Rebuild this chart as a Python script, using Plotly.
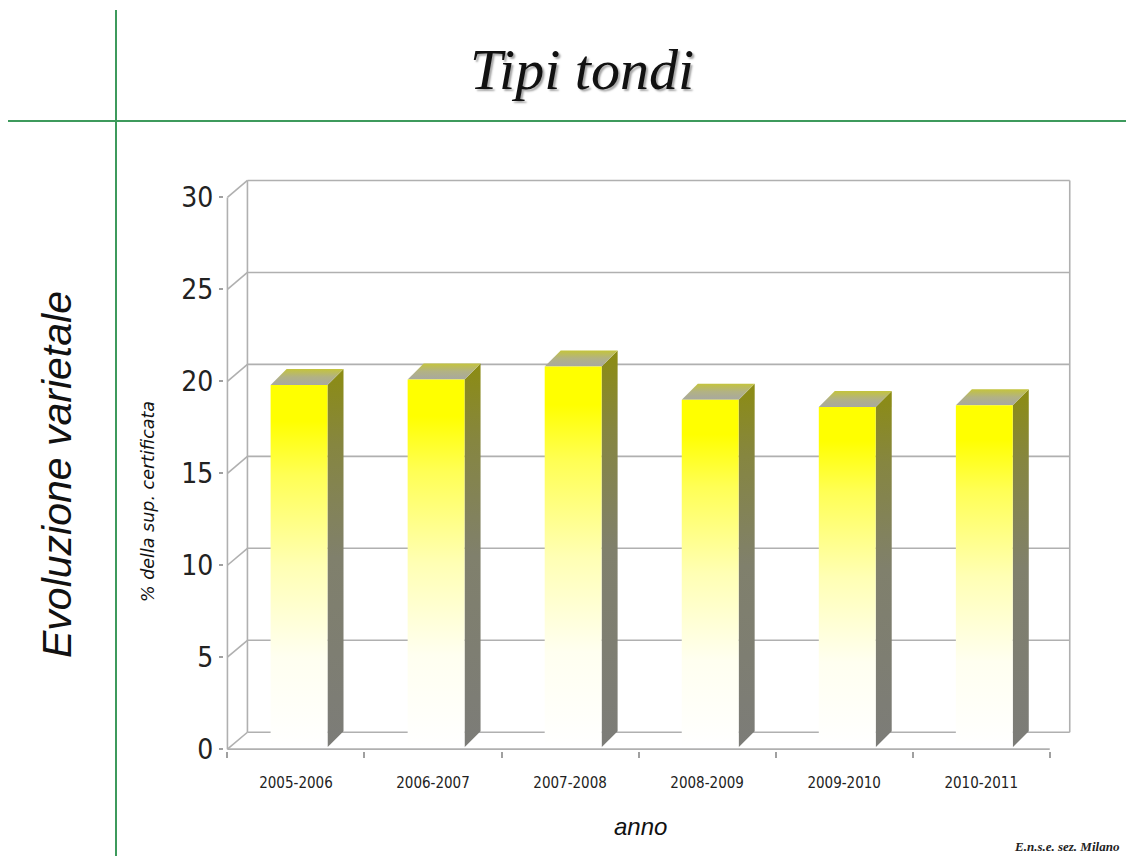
import plotly.graph_objects as go

# ---- data ----
categories = ["2005-2006", "2006-2007", "2007-2008", "2008-2009", "2009-2010", "2010-2011"]
values = [19.7, 20.0, 20.7, 18.9, 18.5, 18.6]
y_ticks = [0, 5, 10, 15, 20, 25, 30]

title_text = "Tipi tondi"
side_text = "Evoluzione varietale"
y_title = "% della sup. certificata"
x_title = "anno"
credit = "E.n.s.e. sez. Milano"

# ---- pseudo-3D geometry (in data units) ----
WALL_DX, WALL_DY = 0.146, 0.92      # back wall offset
BAR_DX, BAR_DY = 0.117, 0.87        # bar depth
FRONT_DX, FRONT_DY = 0.01, 0.1      # bar front plane offset
BAR_L, BAR_R = 0.305, 0.72          # bar front face inside slot
YMAX = y_ticks[-1]
N = len(categories)

# page is rendered with an 8px body margin -> compensate
OFF = 8
W, H = 1134 - OFF, 856 - OFF
ML, MR, MT, MB = 224 - OFF, 50, 179 - OFF, 105
PW, PH = W - ML - MR, H - MT - MB


def px(x):
    return (x - OFF - ML) / PW


def py(y):
    return (H - MB - (y - OFF)) / PH


fig = go.Figure()

grid_col = "#b0b0b0"

# back wall gridlines
gx, gy = [], []
for t in y_ticks:
    gx += [WALL_DX, N + WALL_DX, None]
    gy += [t + WALL_DY, t + WALL_DY, None]
# back wall verticals
gx += [WALL_DX, WALL_DX, None, N + WALL_DX, N + WALL_DX, None]
gy += [WALL_DY, YMAX + WALL_DY, None, WALL_DY, YMAX + WALL_DY, None]
# diagonals from front axis to wall
for t in y_ticks:
    gx += [0, WALL_DX, None]
    gy += [t, t + WALL_DY, None]
# front axis + floor front edge
gx += [0, 0, None, 0, N, None]
gy += [0, YMAX, None, 0, 0, None]
fig.add_trace(go.Scatter(x=gx, y=gy, mode="lines",
                         line=dict(color=grid_col, width=1.6),
                         hoverinfo="skip", showlegend=False))

front_scale = [[0, "#ffffff"], [0.25, "#fffff0"], [0.5, "#ffffb4"],
               [0.75, "#ffff55"], [0.9, "#ffff00"], [1, "#ffff00"]]
side_scale = [[0, "#7c7c78"], [0.5, "#80806c"], [0.8, "#868640"], [1, "#8c8c12"]]
top_scale = [[0, "#a8a8a0"], [0.5, "#b2b284"], [1, "#c4c43c"]]

for i, v in enumerate(values):
    L = i + BAR_L + FRONT_DX
    R = i + BAR_R + FRONT_DX
    y0 = FRONT_DY
    yt = v + FRONT_DY
    # side face
    fig.add_trace(go.Scatter(
        x=[R, R + BAR_DX, R + BAR_DX, R, R],
        y=[y0, y0 + BAR_DY, yt + BAR_DY, yt, y0],
        mode="lines", fill="toself", line=dict(width=0),
        fillgradient=dict(type="vertical", colorscale=side_scale),
        hoverinfo="skip", showlegend=False))
    # top face
    fig.add_trace(go.Scatter(
        x=[L, R, R + BAR_DX, L + BAR_DX, L],
        y=[yt, yt, yt + BAR_DY, yt + BAR_DY, yt],
        mode="lines", fill="toself", line=dict(width=0),
        fillgradient=dict(type="vertical", colorscale=top_scale),
        hoverinfo="skip", showlegend=False))
    # front face
    fig.add_trace(go.Scatter(
        x=[L, R, R, L, L],
        y=[y0, y0, yt, yt, y0],
        mode="lines", fill="toself", line=dict(width=0),
        fillgradient=dict(type="vertical", colorscale=front_scale),
        hovertext=f"{categories[i]}: {v}", hoverinfo="text", showlegend=False))

narrow = "Liberation Sans Narrow, DejaVu Sans Condensed, Roboto Condensed, Liberation Sans, sans-serif"

fig.update_xaxes(range=[-0.025, 6.25], tickvals=[i + 0.5 for i in range(N)],
                 ticktext=categories, ticks="", showgrid=False, zeroline=False,
                 showline=False, ticklabelstandoff=21,
                 tickfont=dict(family=narrow, size=15, color="#222"),
                 minor=dict(ticks="outside", tick0=0, dtick=1, ticklen=6,
                            tickcolor="#a0a0a0", tickwidth=1.5, showgrid=False),
                 fixedrange=True)
fig.update_yaxes(range=[-0.1, 31], tickvals=y_ticks, ticks="outside", ticklen=4,
                 tickcolor="#a0a0a0", tickwidth=1.5, showgrid=False, zeroline=False,
                 showline=False, tickfont=dict(family=narrow, size=28, color="#222"),
                 fixedrange=True)

green = "#3d9a5c"
shapes = [
    dict(type="line", xref="paper", yref="paper", x0=px(116), x1=px(116), y0=py(10), y1=py(856),
         line=dict(color=green, width=2)),
    dict(type="line", xref="paper", yref="paper", x0=px(8), x1=px(1134), y0=py(121), y1=py(121),
         line=dict(color=green, width=2)),
]

annotations = [
    dict(text=title_text, x=px(582), y=py(70), xref="paper", yref="paper",
         showarrow=False, xanchor="center", yanchor="middle",
         font=dict(family="Liberation Serif, serif", size=58, color="#111", style="italic",
                   shadow="2px 2px 2px rgba(0,0,0,0.35)")),
    dict(text=side_text, x=px(57), y=py(475), xref="paper", yref="paper", textangle=-90,
         showarrow=False, xanchor="center", yanchor="middle",
         font=dict(family="Liberation Sans, sans-serif", size=41, color="#111", style="italic")),
    dict(text=y_title, x=px(148), y=py(502), xref="paper", yref="paper", textangle=-90,
         showarrow=False, xanchor="center", yanchor="middle",
         font=dict(family="DejaVu Sans, sans-serif", size=17.5, color="#111", style="italic")),
    dict(text=x_title, x=px(640), y=py(826), xref="paper", yref="paper",
         showarrow=False, xanchor="center", yanchor="middle",
         font=dict(family="Liberation Sans, sans-serif", size=24, color="#111", style="italic")),
    dict(text=credit, x=px(1122), y=py(846), xref="paper", yref="paper",
         showarrow=False, xanchor="right", yanchor="middle",
         font=dict(family="Liberation Serif, serif", size=13, color="#222", style="italic",
                   weight="bold")),
]

fig.update_layout(width=W, height=H, margin=dict(l=ML, r=MR, t=MT, b=MB),
                  paper_bgcolor="white", plot_bgcolor="white",
                  shapes=shapes, annotations=annotations, showlegend=False,
                  hovermode="closest")

fig.write_html("out.html")
